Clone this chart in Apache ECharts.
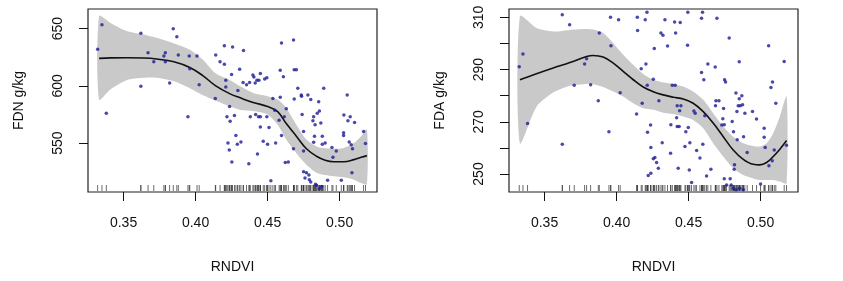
<!DOCTYPE html>
<html>
<head>
<meta charset="utf-8">
<script src="https://cdn.jsdelivr.net/npm/echarts@6/dist/echarts.min.js"></script>
<style>
html,body{margin:0;padding:0;background:#fff;}
#chart{width:843px;height:281px;}
</style>
</head>
<body>
<div id="chart"></div>
<script>
// ---------- DATA ----------
const xTicks = [0.35, 0.40, 0.45, 0.50];
const fdnTicks = [550, 600, 650];
const fdaTicks = [250, 260, 270, 280, 290, 300, 310];
const fdaTickLabels = [250, 270, 290, 310];

// FDN panel: observed points [RNDVI, FDN]
const fdnPoints = [
[0.332,632],[0.335,653.5],[0.338,576],[0.362,646],[0.362,599.6],[0.367,629],[0.371,621],[0.378,626],[0.379,629],[0.379,621],
[0.382,602.5],[0.3845,650],[0.387,643],[0.388,627],[0.3947,573],[0.3956,626],[0.396,615],[0.401,626],[0.4025,601],[0.4137,589],
[0.414,627],[0.417,621],[0.420,635],[0.420,619],[0.421,605],[0.421,599],[0.4218,573],[0.4225,550],[0.4234,544],[0.424,569],
[0.4236,582],[0.425,610],[0.4252,533.5],[0.4257,634],[0.427,574],[0.428,556.5],[0.429,549],[0.4294,596],[0.4306,614.5],[0.4315,551],
[0.433,603],[0.4333,631],[0.4354,601],[0.437,532],[0.4375,603],[0.438,573],[0.4398,609.5],[0.4405,607.7],[0.4414,602.5],[0.4417,575],
[0.4426,605],[0.443,540.5],[0.4437,573],[0.444,605],[0.445,610.7],[0.445,573],[0.445,564],[0.447,551.5],[0.448,606],[0.4495,607],
[0.4495,573],[0.450,549],[0.451,563.5],[0.4523,517],[0.4537,589],[0.455,578.6],[0.4556,550],[0.458,570],[0.4588,613.6],[0.4588,590],
[0.4597,637.5],[0.4597,556.5],[0.461,608],[0.4616,573],[0.4623,533],[0.463,580],[0.4644,533.5],[0.468,545],[0.468,640],[0.4685,614],
[0.470,614],[0.4685,588.5],[0.471,598],[0.4734,592],[0.4736,591],[0.474,575],[0.475,560],[0.475,543],[0.475,525],[0.476,519.5],
[0.477,524],[0.478,592],[0.4787,522],[0.479,518],[0.480,588],[0.480,516],[0.4815,569.6],[0.482,573],[0.482,550.6],[0.4826,556],
[0.483,566],[0.484,513],[0.4845,576],[0.4855,586],[0.486,578],[0.487,567.5],[0.488,556],[0.488,549],[0.489,598],[0.490,550],
[0.4917,517.4],[0.4947,546],[0.4954,537.5],[0.4977,543],[0.5012,517.4],[0.5028,559],[0.5028,556.5],[0.503,574.5],[0.5053,592],[0.5058,569.6],
[0.5067,551],[0.5074,573],[0.5081,548.6],[0.5086,524],[0.509,545],[0.5104,568],[0.5167,560],[0.518,549.5],
[0.4833,514],[0.486,510],[0.4875,512]
];
// FDN smooth fit and confidence band
const fdnFitX = [0.333,0.341,0.352,0.364,0.373,0.385,0.396,0.405,0.414,0.424,0.431,0.440,0.450,0.457,0.463,0.470,0.477,0.484,0.490,0.496,0.503,0.510,0.515,0.519];
const fdnFit  = [624,624.5,624.6,624.4,623.5,621,616,609,600,593,589.5,585.5,582,577.5,567,556,545,538.5,535,533.7,533.7,535.5,537.5,539];
const fdnUp   = [661,655,648,645,642,637,631.6,623,610.7,605,599.6,593.8,591,588,580.7,566,553,547,545.4,545,545.7,550,556,562];
const fdnLo   = [588,597,605,607,607,604,598,592,587,582,579,578,575,566,553,541,531,524,522,521,520,518,515,514];

// FDA panel: observed points [RNDVI, FDA]
const fdaPoints = [
[0.3324,291.1],[0.335,296],[0.3382,269.3],[0.3623,311],[0.3623,261.4],[0.3674,307.2],[0.3706,284],[0.3778,292.1],[0.3792,294.1],[0.382,284.2],
[0.3873,278.1],[0.388,304],[0.3947,266.2],[0.3958,310],[0.3961,299.1],[0.4014,309.1],[0.4025,281.1],[0.4139,273],[0.4144,310],[0.4146,305],
[0.4171,290.3],[0.4178,277.1],[0.4199,309.1],[0.4204,292.1],[0.4211,312],[0.4213,284],[0.4215,266],[0.422,249.4],[0.4236,268.8],[0.4238,250.3],
[0.4238,260.1],[0.4255,286.3],[0.4255,255.8],[0.4262,298.1],[0.4266,256.3],[0.4278,254.4],[0.429,252.2],[0.4294,278.1],[0.4308,304],[0.4317,262],
[0.4322,303.1],[0.4336,309.1],[0.4354,299],[0.4375,257.9],[0.4377,268.9],[0.4387,284],[0.4407,284],[0.4403,308.2],[0.441,304],[0.4417,271.5],
[0.4421,276.1],[0.4421,268.2],[0.4428,252.2],[0.4435,268.2],[0.4438,274.2],[0.4442,308],[0.4447,276.1],[0.4475,260.5],[0.4481,266.2],[0.4493,299.3],
[0.4495,312],[0.4498,267.8],[0.4505,251.5],[0.4509,262],[0.4521,246.7],[0.4537,274.1],[0.4546,273.3],[0.4556,259],[0.4579,256.1],[0.459,288.9],
[0.459,309.7],[0.4597,312],[0.4599,261.4],[0.4606,286.1],[0.4613,272.3],[0.4625,249.2],[0.4634,292.1],[0.4655,251.8],[0.4685,291],[0.4687,276.1],
[0.469,278.1],[0.4697,309.7],[0.4711,278.1],[0.4731,268.8],[0.4738,271.2],[0.4743,275.1],[0.4748,268.9],[0.475,286.1],[0.4757,285.2],[0.4748,248.2],
[0.4764,245.8],[0.4782,302.1],[0.4789,248.2],[0.4796,245.8],[0.4803,270.1],[0.4812,266.2],[0.4817,251.8],[0.4819,253.5],[0.4829,281],[0.4836,273.9],
[0.4838,263.1],[0.4845,276.1],[0.4852,293],[0.4852,278.8],[0.4859,276.1],[0.487,280],[0.4875,276.5],[0.4882,264.3],[0.4891,273.3],[0.4907,258.2],
[0.4944,273.9],[0.4972,271.1],[0.5,246.2],[0.5025,267.5],[0.5025,264.1],[0.5032,260.1],[0.5056,299.1],[0.5058,253.2],[0.5072,283.1],[0.5083,285.2],
[0.5081,255.1],[0.5095,259.2],[0.5106,277.1],[0.5164,293.1],[0.518,261],
[0.481,244.5],[0.483,244],[0.4855,244.5],[0.488,244]
];
// FDA smooth fit and confidence band
const fdaFitX = [0.3329,0.3444,0.356,0.3676,0.3792,0.3838,0.3907,0.3977,0.4046,0.4116,0.4185,0.4255,0.4324,0.4394,0.4463,0.4532,0.4602,0.4671,0.4741,0.481,0.488,0.4949,0.4995,0.5042,0.5088,0.5134,0.5181];
const fdaFit  = [286.1,288.4,290.6,292.7,295,295.4,294.8,292.5,289.3,286.1,283.3,281.5,280.3,279.4,278.7,277.1,273.9,269.5,264.3,259.2,255.6,253.7,253.5,254.4,256.7,259.5,262.8];
const fdaUp   = [310.4,305.9,304.6,305.2,305.5,305.3,304,300.1,295.7,291.8,288.3,286.1,285,284.5,283.5,281.6,278.4,273.3,268.2,264.3,261.8,260.7,260.5,261.8,265.6,272,279.7];
const fdaLo   = [261.8,275.8,281.2,283.8,284.5,284.4,283.3,281.6,279.7,277.1,275.2,274.6,273.5,273,272,270.7,267.5,261.8,256.7,252.2,249.6,248.3,247.7,247.7,247.7,247.1,246.4];

// ---------- CHART ----------
const FONT = '"Liberation Sans", Arial, sans-serif';
const X_MIN = 0.3253, X_MAX = 0.526;
const Y1 = [507.2, 667.2];
const Y2 = [243.1, 313.2];

const zip = (xs, ys) => xs.map((x, i) => [x, ys[i]]);

function bandSeries(idx, xs, up, lo) {
  return {
    type: 'custom', xAxisIndex: idx, yAxisIndex: idx, silent: true, z: 1, clip: true,
    data: [[xs[0], up[0]]],
    renderItem: function (params, api) {
      const pts = [];
      for (let i = 0; i < xs.length; i++) pts.push(api.coord([xs[i], up[i]]));
      for (let i = xs.length - 1; i >= 0; i--) pts.push(api.coord([xs[i], lo[i]]));
      return { type: 'polygon', shape: { points: pts, smooth: 0.25 }, style: { fill: '#c9c9c9', stroke: null } };
    }
  };
}
function fitSeries(idx, xs, ys) {
  return { type: 'line', xAxisIndex: idx, yAxisIndex: idx, data: zip(xs, ys), smooth: 0.4,
    showSymbol: false, silent: true, z: 3, lineStyle: { color: '#111', width: 1.6 } };
}
function pointSeries(idx, pts) {
  return { type: 'scatter', xAxisIndex: idx, yAxisIndex: idx, data: pts, symbol: 'circle', symbolSize: 3.5,
    silent: true, z: 4, itemStyle: { color: '#1c1c96' } };
}
function rugSeries(idx, pts, ymin) {
  return { type: 'scatter', xAxisIndex: idx, yAxisIndex: idx, data: pts.map(p => [p[0], ymin]),
    symbol: 'rect', symbolSize: [0.9, 6], symbolOffset: [0, -4], clip: false, silent: true, z: 2,
    itemStyle: { color: '#333' } };
}
function xAxis(idx) {
  return { type: 'value', gridIndex: idx, min: X_MIN, max: X_MAX, name: 'RNDVI', nameLocation: 'middle', nameGap: 68,
    nameTextStyle: { fontFamily: FONT, fontSize: 14, color: '#111' },
    axisLine: { show: false }, splitLine: { show: false },
    axisTick: { show: true, length: 9, customValues: xTicks, lineStyle: { color: '#111', width: 1 } },
    axisLabel: { customValues: xTicks, margin: 24, fontFamily: FONT, fontSize: 14, color: '#111',
      formatter: v => v.toFixed(2) } };
}
function yAxis(idx, range, name, ticks, labels) {
  return { type: 'value', gridIndex: idx, min: range[0], max: range[1], name: name, nameLocation: 'middle', nameGap: 62,
    nameTextStyle: { fontFamily: FONT, fontSize: 14, color: '#111' },
    axisLine: { show: false }, splitLine: { show: false },
    axisTick: { show: true, length: 9, customValues: ticks, lineStyle: { color: '#111', width: 1 } },
    axisLabel: { customValues: labels, rotate: 90, margin: 23, fontFamily: FONT, fontSize: 14, color: '#111' } };
}

const chart = echarts.init(document.getElementById('chart'), null, { renderer: 'canvas' });
chart.setOption({
  backgroundColor: '#fff',
  animation: false,
  grid: [
    { left: 88, top: 9, width: 289, height: 183, show: true, borderColor: '#222', borderWidth: 1.2, backgroundColor: '#fff' },
    { left: 509, top: 9, width: 289, height: 183, show: true, borderColor: '#222', borderWidth: 1.2, backgroundColor: '#fff' }
  ],
  xAxis: [xAxis(0), xAxis(1)],
  yAxis: [yAxis(0, Y1, 'FDN g/kg', fdnTicks, fdnTicks), yAxis(1, Y2, 'FDA g/kg', fdaTicks, fdaTickLabels)],
  series: [
    bandSeries(0, fdnFitX, fdnUp, fdnLo),
    rugSeries(0, fdnPoints, Y1[0]),
    fitSeries(0, fdnFitX, fdnFit),
    pointSeries(0, fdnPoints),
    bandSeries(1, fdaFitX, fdaUp, fdaLo),
    rugSeries(1, fdaPoints, Y2[0]),
    fitSeries(1, fdaFitX, fdaFit),
    pointSeries(1, fdaPoints)
  ]
});
</script>
</body>
</html>
